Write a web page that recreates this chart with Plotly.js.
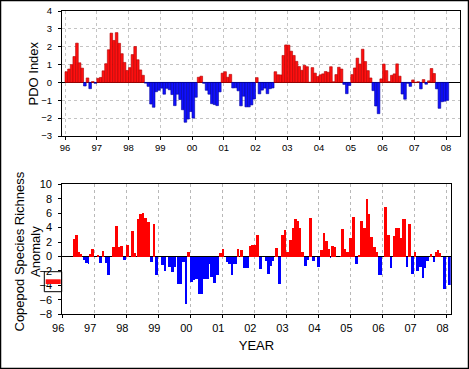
<!DOCTYPE html>
<html>
<head>
<meta charset="utf-8">
<script src="https://cdn.plot.ly/plotly-3.0.1.min.js"></script>
<style>html,body{margin:0;padding:0;background:#fff}#chart{width:469px;height:369px}</style>
</head>
<body>
<div id="chart"></div>
<script>
// ---- Data ----
const yearTicks = [1996, 1997, 1998, 1999, 2000, 2001, 2002, 2003, 2004, 2005, 2006, 2007, 2008];
const yearLabels = ["96", "97", "98", "99", "00", "01", "02", "03", "04", "05", "06", "07", "08"];

// Monthly PDO index, January 1996 onward
const pdoStartYear = 1996;
const pdoValues = [
  0.60, 0.75, 1.00, 1.45, 2.20, 1.10, 0.80, -0.20, 0.25, -0.35, 0.05, -0.05,
  0.23, 0.28, 0.65, 1.05, 1.83, 2.76, 2.35, 2.79, 2.19, 1.61, 1.12, 0.67,
  0.83, 1.56, 2.01, 1.27, 0.70, 0.40, -0.04, -0.22, -1.21, -1.39, -0.52, -0.44,
  -0.32, -0.66, -0.33, -0.41, -0.68, -1.30, -0.66, -0.96, -1.53, -2.23, -2.05, -1.63,
  -2.00, -0.83, 0.29, 0.35, -0.05, -0.44, -0.66, -1.19, -1.24, -1.30, -0.53, 0.52,
  0.60, 0.29, 0.45, -0.31, -0.30, -0.47, -1.31, -0.77, -1.37, -1.37, -1.26, -0.93,
  0.27, -0.64, -0.43, -0.32, -0.63, -0.35, -0.31, 0.60, 0.43, 0.42, 1.51, 2.10,
  2.09, 1.75, 1.51, 1.18, 0.89, 0.68, 0.96, 0.88, 0.01, 0.83, 0.52, 0.33,
  0.43, 0.48, 0.61, 0.57, 0.88, 0.04, 0.44, 0.85, 0.75, -0.11, -0.63, -0.17,
  0.44, 0.81, 1.36, 1.03, 1.86, 1.17, 0.66, 0.25, -0.46, -1.32, -1.75, 0.20,
  1.03, 0.66, 0.05, 0.40, 0.48, 1.04, 0.35, -0.65, -0.94, -0.05, -0.22, 0.14,
  0.01, 0.04, -0.36, 0.16, -0.10, 0.09, 0.78, 0.50, -0.36, -1.45, -1.08, -1.05,
  -1.00
];

// Copepod species richness anomaly: sample start (decimal year) and value (null = no data until next date)
const richDates = [
  1996.33, 1996.39, 1996.48, 1996.56, 1996.62, 1996.64, 1996.72, 1996.79, 1996.83, 1996.89, 1996.98,
  1997.08, 1997.14, 1997.24, 1997.30, 1997.33, 1997.41, 1997.49, 1997.57, 1997.65, 1997.73, 1997.80, 1997.89, 1997.98,
  1998.07, 1998.14, 1998.24, 1998.30, 1998.32, 1998.41, 1998.50, 1998.56, 1998.64, 1998.74, 1998.82, 1998.90, 1998.99,
  1999.08, 1999.18, 1999.24, 1999.31, 1999.41, 1999.48, 1999.54, 1999.58, 1999.68, 1999.75, 1999.83, 1999.89, 1999.99,
  2000.07, 2000.16, 2000.24, 2000.39, 2000.58, 2000.63, 2000.72, 2000.80, 2000.88, 2000.98,
  2001.06, 2001.10, 2001.18, 2001.27, 2001.34, 2001.46, 2001.53, 2001.55, 2001.63, 2001.72, 2001.82, 2001.88, 2001.90,
  2002.05, 2002.13, 2002.23, 2002.32, 2002.40, 2002.48, 2002.55, 2002.61, 2002.63, 2002.73, 2002.84, 2002.91, 2002.99,
  2003.08, 2003.16, 2003.23, 2003.32, 2003.39, 2003.47, 2003.55, 2003.63, 2003.70, 2003.71, 2003.81, 2003.89, 2003.97,
  2004.06, 2004.15, 2004.22, 2004.30, 2004.35, 2004.39, 2004.48, 2004.56, 2004.67, 2004.72, 2004.81, 2004.87, 2004.96,
  2005.05, 2005.14, 2005.22, 2005.31, 2005.40, 2005.48, 2005.55, 2005.62, 2005.71, 2005.79, 2005.87, 2005.97,
  2006.06, 2006.15, 2006.23, 2006.30, 2006.32, 2006.39, 2006.55, 2006.62, 2006.72, 2006.80, 2006.81, 2006.88, 2006.97, 2006.98,
  2007.06, 2007.14, 2007.23, 2007.30, 2007.37, 2007.46, 2007.48, 2007.55, 2007.58, 2007.63, 2007.71, 2007.78, 2007.83, 2007.88, 2007.97,
  2008.06, 2008.13
];
const richValues = [
  2.4, 2.95, 0.65, 0.3, null, -0.5, -0.9, -1.0, 0.4, 1.0, null,
  0.15, -0.9, 0.75, null, -0.9, -2.6, null, 1.35, 4.2, 1.35, 1.45, -0.45, 1.55,
  null, 3.5, 0.5, null, 5.25, 5.9, 6.05, 5.35, 4.8, -0.75, 4.45, -2.5, null,
  -1.2, -2.0, null, -1.45, -2.1, -1.5, null, -3.8, -3.85, -0.8, -6.6, 0.6, -3.5,
  -3.3, -3.1, -5.15, -3.1, -1.1, -2.8, -3.7, -2.6, 0.55, 1.1,
  null, -0.75, -1.05, -2.5, -1.1, 1.0, null, 0.9, -1.55, -1.65, 1.4, null, 1.55,
  2.95, -1.75, null, -0.6, -2.4, -1.3, -0.6, null, 1.15, -3.8, 2.95, 3.65, 0.65,
  2.25, 4.0, 5.15, 4.9, 3.95, 0.65, -1.3, -0.5, null, 5.35, -0.6, null, -1.45,
  0.9, 3.3, 2.15, 1.0, -0.2, 1.5, 1.35, null, 0.1, 3.8, 1.0, 0.65, 2.5,
  5.45, -1.05, 0.15, 4.9, 3.9, 7.9, 5.85, 2.7, 1.25, 0.65, -2.5, null,
  6.85, 2.95, -1.55, null, 2.85, 3.9, 2.6, 5.15, -1.45, null, 4.55, -2.45, null, 0.65,
  -2.0, -1.45, -2.95, -1.55, -0.65, null, 0.3, null, -0.8, 0.65, 0.9, 0.5, null, -4.5, null,
  -4.0, null
];

// ---- Build traces ----
const pdoX = pdoValues.map((v, i) => pdoStartYear + (i + 0.5) / 12);
const pdoColors = pdoValues.map(v => v >= 0 ? '#ff1010' : '#1010ff');
const pdoLines = pdoValues.map(v => v >= 0 ? '#b00000' : '#0000a0');

const rx = [], ry = [], rw = [], rc = [];
for (let i = 0; i < richValues.length; i++) {
  if (richValues[i] === null || i + 1 >= richDates.length) continue;
  rx.push(richDates[i]);
  ry.push(richValues[i]);
  rw.push(richDates[i + 1] - richDates[i]);
  rc.push(richValues[i] >= 0 ? '#ff0000' : '#0000ff');
}

const traces = [
  {
    type: 'bar', x: pdoX, y: pdoValues, width: 1 / 12, xaxis: 'x', yaxis: 'y',
    marker: { color: pdoColors, line: { color: pdoLines, width: 0.6 } },
    hoverinfo: 'skip'
  },
  {
    type: 'bar', x: rx, y: ry, width: rw, offset: 0, xaxis: 'x2', yaxis: 'y2',
    marker: { color: rc, line: { width: 0 } },
    hoverinfo: 'skip'
  }
];

const W = 469, H = 369;
const px = v => v / W, py = v => 1 - v / H;

const layout = {
  width: W, height: H,
  margin: { l: 0, r: 0, t: 0, b: 0 },
  paper_bgcolor: '#fff', plot_bgcolor: '#fff',
  showlegend: false, bargap: 0,
  font: { family: 'Arial, "Liberation Sans", sans-serif', color: '#000' },
  xaxis: {
    domain: [px(62), px(460)], anchor: 'y', range: [1995.905, 2008.44],
    tickmode: 'array', tickvals: yearTicks, ticktext: yearLabels,
    ticks: 'outside', ticklen: 3, tickcolor: '#000', tickfont: { size: 9.5 }, ticklabelstandoff: 0,
    showline: true, linecolor: '#000', linewidth: 1, mirror: true,
    showgrid: true, gridcolor: '#c4c4c4', griddash: 'dot', zeroline: false
  },
  yaxis: {
    domain: [py(136), py(11)], anchor: 'x', range: [-3, 4], dtick: 1,
    ticks: 'outside', ticklen: 3, tickcolor: '#000', tickfont: { size: 9.5 }, ticklabelstandoff: 4,
    showline: true, linecolor: '#000', linewidth: 1, mirror: true,
    showgrid: true, gridcolor: '#c4c4c4', griddash: 'dot',
    zeroline: true, zerolinecolor: '#000', zerolinewidth: 1.2
  },
  xaxis2: {
    domain: [px(62.2), px(450.7)], anchor: 'y2', range: [1996, 2008.13],
    tickmode: 'array', tickvals: yearTicks, ticktext: yearLabels,
    ticks: 'outside', ticklen: 3, tickcolor: '#000', tickfont: { size: 11 }, ticklabelshift: -4, ticklabelstandoff: 0,
    showline: true, linecolor: '#000', linewidth: 1, mirror: true,
    showgrid: true, gridcolor: '#b8b8b8', griddash: 'dot', zeroline: false,
    title: { text: 'YEAR', font: { size: 13 }, standoff: 8 }
  },
  yaxis2: {
    domain: [py(314.3), py(184.3)], anchor: 'x2', range: [-8, 10], dtick: 2,
    ticks: 'outside', ticklen: 3, tickcolor: '#000', tickfont: { size: 11 }, ticklabelstandoff: 4,
    showline: true, linecolor: '#000', linewidth: 1, mirror: true,
    showgrid: false, zeroline: true, zerolinecolor: '#000', zerolinewidth: 1.2
  },
  annotations: [
    { text: 'PDO Index', xref: 'paper', yref: 'paper', x: px(33), y: py(73.5),
      xanchor: 'center', yanchor: 'middle', textangle: -90, showarrow: false, font: { size: 13 } },
    { text: 'Copepod Species Richness<br>Anomaly', xref: 'paper', yref: 'paper', x: px(27.5), y: py(252),
      xanchor: 'center', yanchor: 'middle', textangle: -90, showarrow: false, font: { size: 13 } }
  ],
  shapes: [
    { type: 'rect', xref: 'paper', yref: 'paper', x0: px(0.5), x1: px(468.5), y0: py(368.5), y1: py(0.5),
      line: { color: '#000', width: 1.5 }, fillcolor: 'rgba(0,0,0,0)', layer: 'above' },
    { type: 'rect', xref: 'paper', yref: 'paper', x0: px(44.3), x1: px(61.7), y0: py(291.7), y1: py(271.7),
      line: { color: '#000', width: 1 }, fillcolor: 'rgba(0,0,0,0)', layer: 'above' },
    { type: 'rect', xref: 'paper', yref: 'paper', x0: px(45.7), x1: px(60.7), y0: py(284), y1: py(279.3),
      line: { width: 0 }, fillcolor: '#ff1010', layer: 'above' }
  ]
};

Plotly.newPlot('chart', traces, layout, { staticPlot: true, displayModeBar: false });
</script>
</body>
</html>
